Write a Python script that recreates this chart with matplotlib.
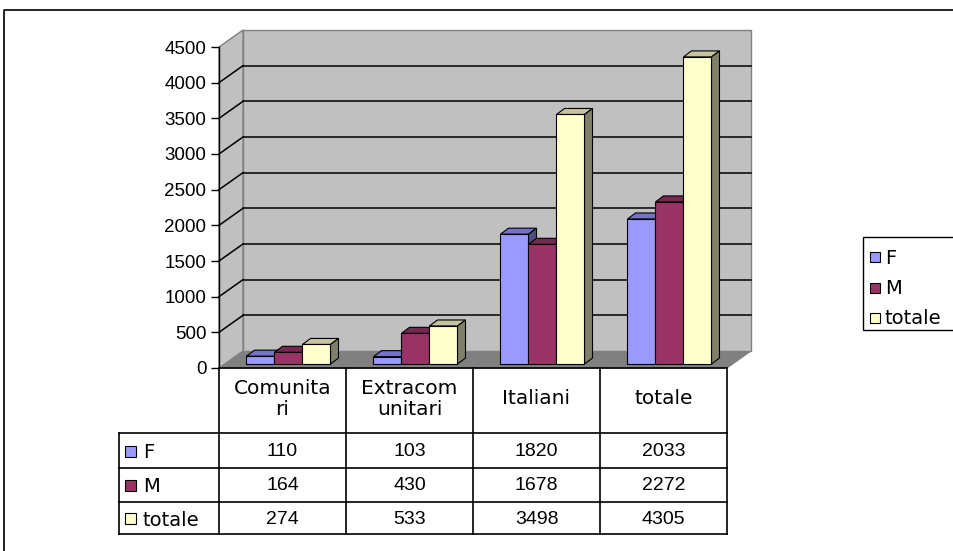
import matplotlib.pyplot as plt
import numpy as np
from matplotlib.patches import Polygon, Rectangle

# dati
categorie = ['Comunitari', 'Extracomunitari', 'Italiani', 'totale']
etichette_tab = ['Comunita\nri', 'Extracom\nunitari', 'Italiani', 'totale']
serie = ['F', 'M', 'totale']
F = [110, 103, 1820, 2033]
M = [164, 430, 1678, 2272]
totale = [274, 533, 3498, 4305]
valori = [F, M, totale]

colori = ['#9999ff', '#993366', '#ffffcc']
colori_top = ['#7373c8', '#772850', '#c4c49e']
colori_lato = ['#4d4d80', '#4d1a33', '#80806a']

W, H = 954, 551
fig = plt.figure(figsize=(W / 100, H / 100), dpi=100)

# area del grafico (piano frontale) in pixel
x0, x1 = 219, 727
y0, y1 = 368, 47
ax = fig.add_axes([x0 / W, 1 - y0 / H, (x1 - x0) / W, (y0 - y1) / H])
ax.set_xlim(-0.5, 3.5)
ax.set_ylim(0, 4500)

px_x = 4.0 / (x1 - x0)        # unita di categoria per pixel
px_y = 4500.0 / (y0 - y1)     # unita di valore per pixel

# profondita pareti
dX, dY = 24 * px_x, 17 * px_y
# posizione barre nella profondita e spessore
bX, bY = 6 * px_x, 4 * px_y
pX, pY = 8 * px_x, 6 * px_y
w = 28 * px_x

# pareti e pavimento
ax.add_patch(Polygon([(-0.5, 0), (3.5, 0), (3.5 + dX, dY), (-0.5 + dX, dY)],
                     closed=True, fc='#808080', ec='#808080', lw=0.8, clip_on=False, zorder=0))
ax.add_patch(Rectangle((-0.5 + dX, dY), 4, 4500, fc='#c0c0c0', ec='#808080', lw=1,
                       clip_on=False, zorder=0))
ax.add_patch(Polygon([(-0.5, 0), (-0.5 + dX, dY), (-0.5 + dX, 4500 + dY), (-0.5, 4500)],
                     closed=True, fc='#c0c0c0', ec='#808080', lw=1, clip_on=False, zorder=0))
for v in range(500, 4500, 500):
    ax.plot([-0.5 + dX, 3.5 + dX], [v + dY, v + dY], color='black', lw=1.1, zorder=1, clip_on=False)
    ax.plot([-0.5, -0.5 + dX], [v, v + dY], color='black', lw=1.1, zorder=1, clip_on=False)

# barre 3d
z = 2
for i in range(4):
    for j in range(3):
        xc = i + (j - 1) * w + bX
        v = valori[j][i]
        ax.bar(xc, v, width=w, bottom=bY, color=colori[j], edgecolor='black', lw=0.8,
               zorder=z + 0.5, clip_on=False)
        xl, xr = xc - w / 2, xc + w / 2
        top = bY + v
        ax.add_patch(Polygon([(xl, top), (xr, top), (xr + pX, top + pY), (xl + pX, top + pY)],
                             closed=True, fc=colori_top[j], ec='black', lw=0.8, zorder=z, clip_on=False))
        ax.add_patch(Polygon([(xr, bY), (xr + pX, bY + pY), (xr + pX, top + pY), (xr, top)],
                             closed=True, fc=colori_lato[j], ec='black', lw=0.8, zorder=z, clip_on=False))
        z += 1

ax.set_facecolor('none')
for s in ['top', 'right', 'bottom']:
    ax.spines[s].set_visible(False)
ax.spines['left'].set_linewidth(1)
ax.set_xticks([])
ax.set_yticks(range(0, 4501, 500))
ax.tick_params(axis='y', direction='out', length=6, width=1, pad=3,
               labelsize=13.5, labelfontfamily='Liberation Sans')

# sovrapposizione in pixel: cornice, tabella, legenda
ov = fig.add_axes([0, 0, 1, 1], zorder=5)
ov.set_xlim(0, W)
ov.set_ylim(H, 0)
ov.axis('off')
ov.patch.set_alpha(0)

ov.plot([4, 4, W + 5], [H + 5, 10, 10], color='black', lw=1.2)

# tabella dati
col = [x0 + (x1 - x0) * k / 4 for k in range(5)]
righe = [368, 433, 468, 502, 534]
lw = 1.2
ov.plot([x0, x1], [368, 368], color='black', lw=lw)
for yy in righe[1:]:
    ov.plot([119, x1], [yy, yy], color='black', lw=lw)
for xx in col:
    ov.plot([xx, xx], [368, 534], color='black', lw=lw)
ov.plot([119, 119], [433, 534], color='black', lw=lw)

for i, lab in enumerate(etichette_tab):
    ov.text((col[i] + col[i + 1]) / 2, 399, lab, ha='center', va='center',
            fontsize=14.5, family='DejaVu Sans', linespacing=1.15)
for j, nome in enumerate(serie):
    yc = (righe[j + 1] + righe[j + 2]) / 2
    ov.add_patch(Rectangle((125, yc - 5), 11, 11, fc=colori[j], ec='black', lw=0.8))
    ov.text(143, yc + 2, nome, ha='left', va='center', fontsize=14, family='DejaVu Sans')
    for i in range(4):
        ov.text((col[i] + col[i + 1]) / 2, yc + 1, str(valori[j][i]), ha='center',
                va='center', fontsize=14, family='Liberation Sans')

# legenda
ov.add_patch(Rectangle((863, 237), 120, 93, fc='white', ec='black', lw=1))
for j, nome in enumerate(serie):
    yc = [257, 288, 318][j]
    ov.add_patch(Rectangle((870, yc - 5), 10, 10, fc=colori[j], ec='black', lw=0.8))
    ov.text(885, yc + 1, nome, ha='left', va='center', fontsize=14, family='DejaVu Sans')

fig.savefig('out.png', dpi=100)
